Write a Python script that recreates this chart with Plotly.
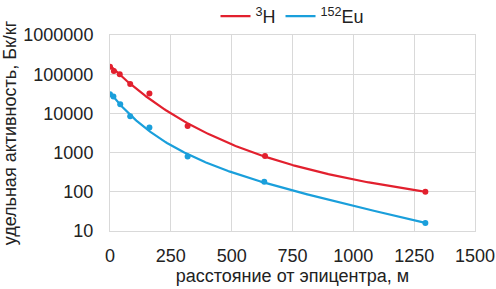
import numpy as np
import plotly.graph_objects as go

# distance from epicentre, m
h3_x = [0, 16, 40, 83, 162, 319, 637, 1296]
h3_y = [155000, 120000, 100000, 56000, 32000, 4800, 820, 100]
eu_x = [0, 14, 42, 83, 162, 319, 634, 1296]
eu_y = [31000, 27000, 17000, 8500, 4400, 800, 180, 16]

red = "#E2202E"
blue = "#1A9FDB"
FONT = "Liberation Sans, Arial, sans-serif"
FS = 18

def trend(xs, ys):
    """weighted least-squares trend: log10(y) = a + b*exp(-x/L) + d*x, L by grid search"""
    x = np.array(xs, float)
    ly = np.log10(np.array(ys, float))
    gaps = np.diff(x)
    w = np.concatenate([[gaps[0]], (gaps[:-1] + gaps[1:]) / 2, [gaps[-1]]])
    sw = np.sqrt(np.clip(w, 60, 300))
    best = None
    for L in np.linspace(50, 2000, 400):
        A = np.vstack([np.ones_like(x), np.exp(-x / L), x]).T
        coef, *_ = np.linalg.lstsq(A * sw[:, None], ly * sw, rcond=None)
        err = np.sum(((A @ coef - ly) * sw) ** 2)
        if best is None or err < best[0]:
            best = (err, L, coef)
    _, L, (a, b, d) = best
    xx = np.linspace(x.min(), x.max(), 300)
    return xx, 10 ** (a + b * np.exp(-xx / L) + d * xx)

fig = go.Figure()
for name, xs, ys, col in [("<sup>3</sup>H", h3_x, h3_y, red), ("<sup>152</sup>Eu", eu_x, eu_y, blue)]:
    tx, ty = trend(xs, ys)
    fig.add_trace(go.Scatter(x=tx, y=ty, mode="lines", name=name,
                             line=dict(color=col, width=2.2)))
    fig.add_trace(go.Scatter(x=xs, y=ys, mode="markers", showlegend=False,
                             marker=dict(color=col, size=6)))

fig.update_layout(
    width=496, height=289,
    margin=dict(l=110, r=21, t=35, b=58, autoexpand=False),
    paper_bgcolor="white", plot_bgcolor="white",
    font=dict(family=FONT, size=FS, color="#222"),
    legend=dict(orientation="h", x=0.5, xanchor="center", y=1.0, yanchor="bottom",
                font=dict(size=FS), itemwidth=30, tracegroupgap=0,
                bgcolor="rgba(0,0,0,0)"),
    showlegend=True,
)
fig.update_xaxes(range=[0, 1500], dtick=250, tick0=0, showgrid=True, gridcolor="#D9D9D9",
                 showline=True, linecolor="#D9D9D9", mirror=True, zeroline=False,
                 ticks="", tickfont=dict(size=FS), ticklabelstandoff=8, automargin=False,
                 title=dict(text="расстояние от эпицентра, м", font=dict(size=FS), standoff=4))
fig.update_yaxes(type="log", range=[1, 6], tickvals=[10, 100, 1000, 10000, 100000, 1000000],
                 ticktext=["10", "100", "1000", "10000", "100000", "1000000"],
                 showgrid=True, gridcolor="#D9D9D9", showline=True, linecolor="#D9D9D9",
                 mirror=True, zeroline=False, ticks="", tickfont=dict(size=FS),
                 ticklabelstandoff=12, automargin=False,
                 title=dict(text="удельная активность, Бк/кг", font=dict(size=FS), standoff=4))

fig.write_html("out.html", config={"displayModeBar": False},
               post_script="document.body.style.margin='0';")
